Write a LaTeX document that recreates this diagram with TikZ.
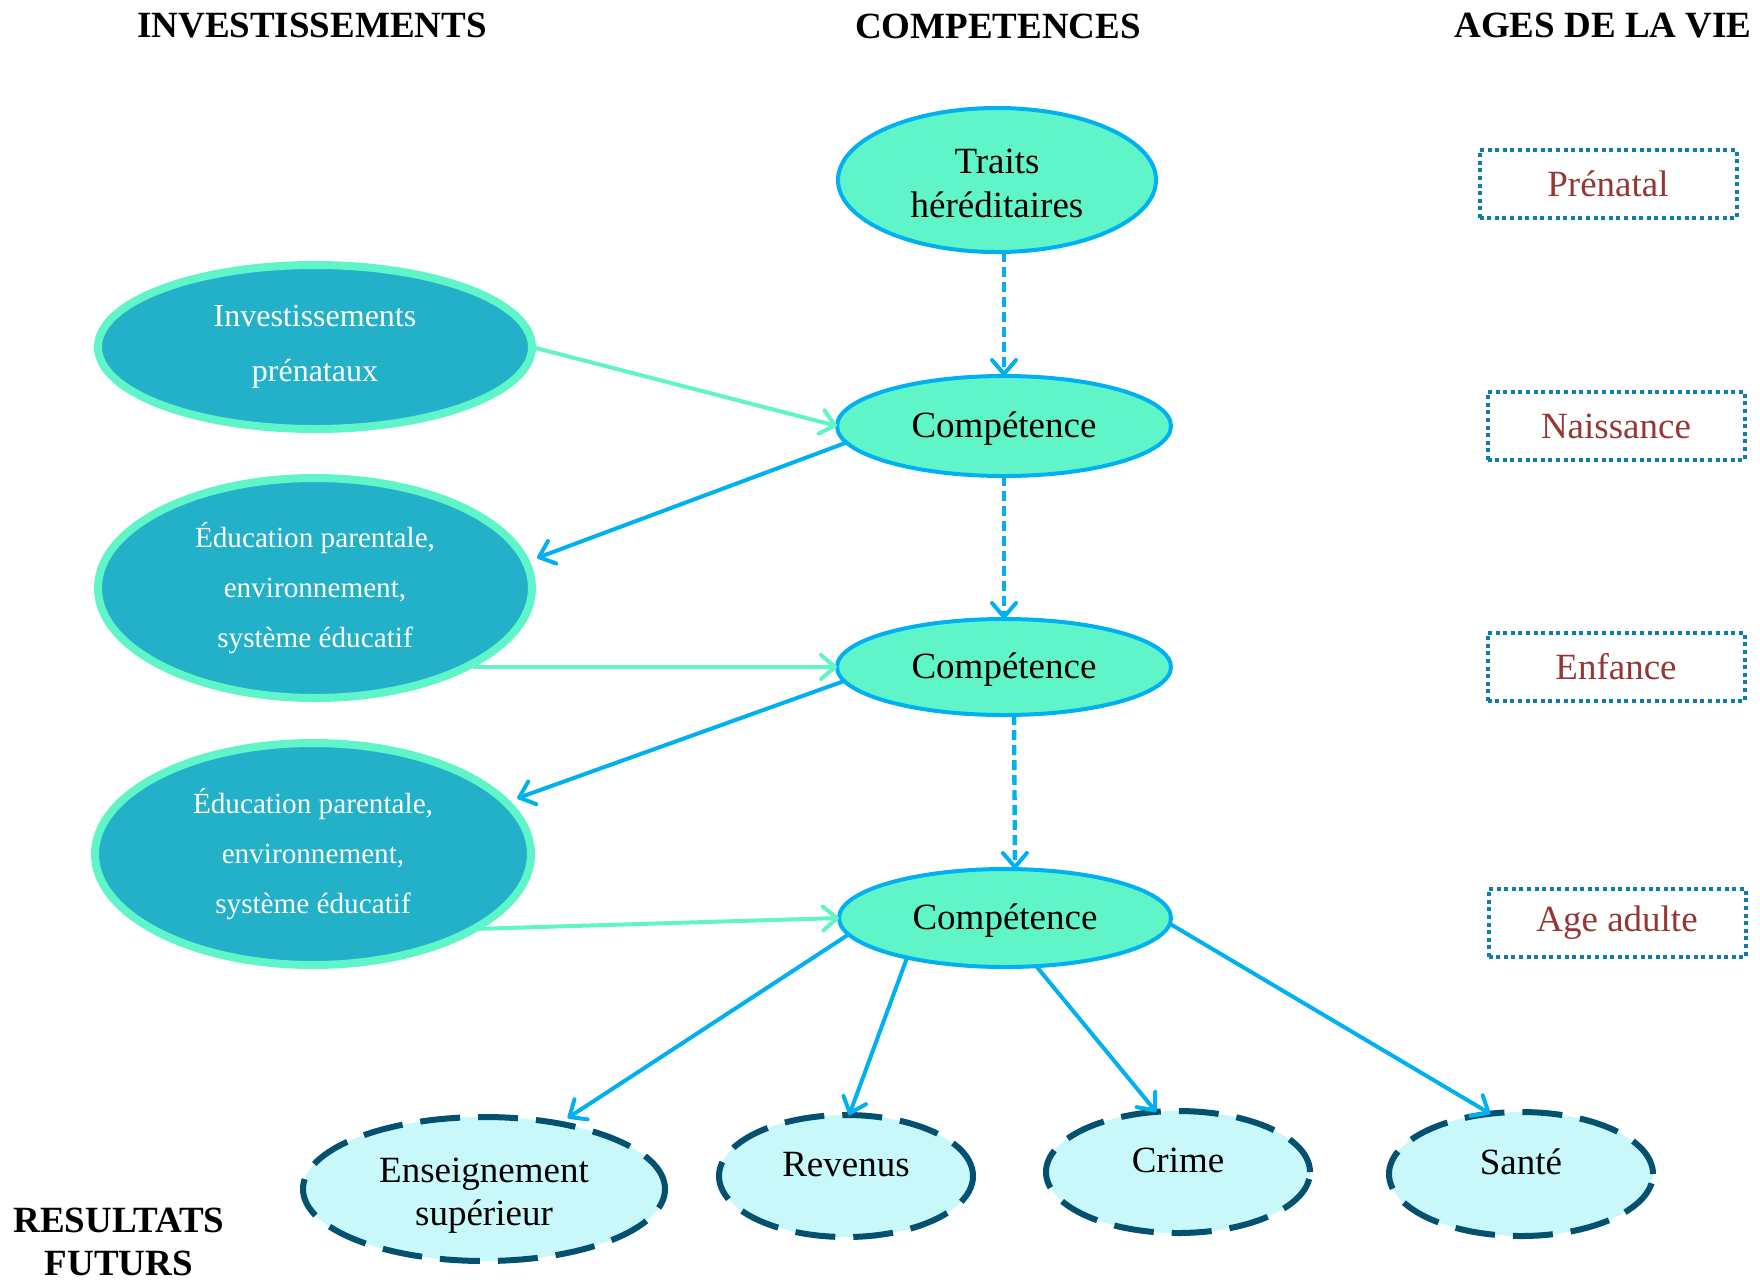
\documentclass[tikz,border=0pt]{standalone}
\usepackage{fontspec}
\setmainfont{Liberation Serif}
\usetikzlibrary{shapes.geometric,arrows.meta,calc}
\definecolor{compfill}{RGB}{96,245,200}
\definecolor{blueline}{RGB}{0,176,240}
\definecolor{investfill}{RGB}{35,177,201}
\definecolor{resfill}{RGB}{200,248,250}
\definecolor{resborder}{RGB}{3,80,111}
\definecolor{ageborder}{RGB}{14,126,168}
\definecolor{agetext}{RGB}{149,55,53}
\begin{document}
\begin{tikzpicture}[x=0.5pt,y=-0.5pt,
  comp/.style={ellipse, draw=blueline, line width=2pt, fill=compfill, inner sep=0pt, outer sep=0pt,
    align=center, font=\fontsize{18.5}{22}\selectfont},
  inv/.style={ellipse, draw=compfill, line width=4pt, fill=investfill, text=white, inner sep=0pt, outer sep=0pt,
    align=center},
  res/.style={ellipse, draw=resborder, line width=3pt, dash pattern=on 20pt off 9pt, fill=resfill,
    inner sep=0pt, outer sep=0pt, align=center, font=\fontsize{18.5}{21.5}\selectfont},
  agebox/.style={draw=ageborder, line width=2pt, dash pattern=on 2pt off 1.8pt, text=agetext,
    minimum width=128.5pt, minimum height=34pt, inner sep=0pt, font=\fontsize{18.5}{22}\selectfont},
  head/.style={align=center, font=\bfseries\fontsize{18.5}{21.5}\selectfont},
  barrow/.style={draw=blueline, line width=2pt, line cap=round,
    -{Straight Barb[length=7pt,width=12pt,line width=2pt,round]}},
  garrow/.style={draw=compfill, line width=2pt, line cap=round,
    -{Straight Barb[length=7pt,width=12pt,line width=2pt,round]}},
  dasharrow/.style={barrow, line width=2.2pt, line cap=butt, dash pattern=on 5pt off 2.5pt}
]
\useasboundingbox (0,0) rectangle (1760,1281);

% headers
\node[head] (h1) at (312,26) {INVESTISSEMENTS};
\node[head] (h2) at (998,26) {COMPETENCES};
\node[head] (h3) at (1603,26) {AGES DE LA VIE};
\node[head] (h4) at (119,1242) {RESULTATS\\FUTURS};

% competences
\node[comp, minimum width=159pt, minimum height=72pt] (t) at (997,180) {\rule{0pt}{16pt}Traits\\héréditaires};
\node[comp, minimum width=167pt, minimum height=50pt] (c1) at (1004,426) {\rule{0pt}{15pt}Compétence};
\node[comp, minimum width=167pt, minimum height=48pt] (c2) at (1004,667) {\rule{0pt}{15pt}Compétence};
\node[comp, minimum width=166pt, minimum height=49pt] (c3) at (1005,918) {\rule{0pt}{15pt}Compétence};

% investments
\node[inv, minimum width=217pt, minimum height=82pt, font=\fontsize{16}{27.5}\selectfont] (ip) at (315,347) {Investissements\\prénataux};
\node[inv, minimum width=217pt, minimum height=110pt, font=\fontsize{14.6}{25}\selectfont] (e1) at (315,588) {Éducation parentale,\\environnement,\\système éducatif};
\node[inv, minimum width=218pt, minimum height=111pt, font=\fontsize{14.6}{25}\selectfont] (e2) at (313,854) {Éducation parentale,\\environnement,\\système éducatif};

% results
\node[res, minimum width=181pt, minimum height=72pt] (r1) at (484,1189) {\rule{0pt}{19pt}Enseignement\\supérieur};
\node[res, minimum width=127pt, minimum height=61pt] (r2) at (846,1176) {\smash{Revenus}};
\node[res, minimum width=132pt, minimum height=61pt] (r3) at (1178,1172) {\smash{Crime}};
\node[res, minimum width=132pt, minimum height=62pt] (r4) at (1521,1174) {\smash{Santé}};

% ages
\node[agebox] (a1) at (1608,184) {Prénatal};
\node[agebox] (a2) at (1616,426) {Naissance};
\node[agebox] (a3) at (1616,667) {Enfance};
\node[agebox] (a4) at (1617,923) {Age adulte};

% vertical dashed arrows
\draw[dasharrow] (c1.north |- t.south) -- (c1.north);
\draw[dasharrow] (c1.south) -- (c2.north);
\draw[dasharrow] ($(c2.south)+(10,0)$) -- ($(c3.north)+(10,0)$);

% investments <-> competences
\draw[garrow] (ip.east) -- (c1.west);
\draw[barrow, shorten >=6pt] (c1.186) -- (e1.7);
\draw[garrow] (c2.west -| e1.-25) -- (c2.west);
\draw[barrow, shorten >=6pt] (c2.185) -- (e2.15);
\draw[garrow] (e2.-25) -- (c3.west);

% outcomes
\draw[barrow, shorten >=5pt] (c3.186) -- (r1.41);
\draw[barrow] (c3.-158) -- (r2.87);
\draw[barrow] (c3.-57) -- (r3.110);
\draw[barrow] (c3.-2) -- (r4.117);
\end{tikzpicture}
\end{document}
